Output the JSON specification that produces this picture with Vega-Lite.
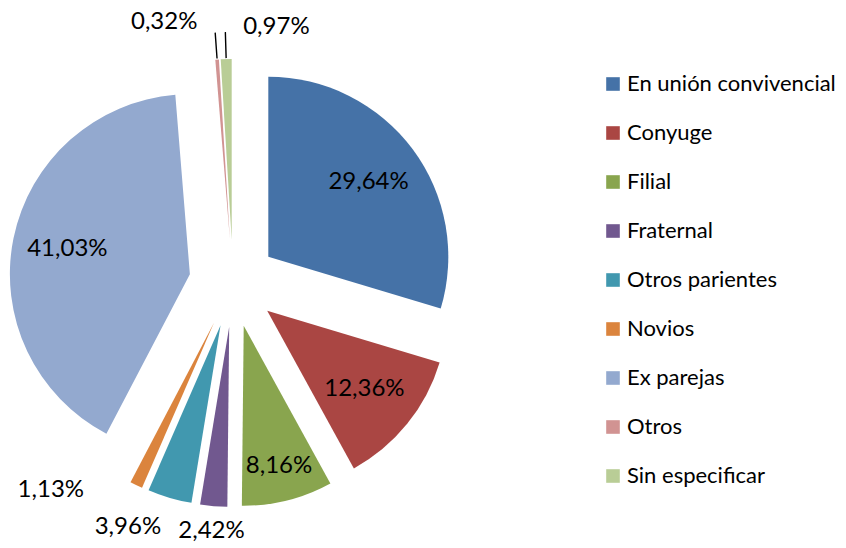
{
  "$schema": "https://vega.github.io/schema/vega-lite/v6.json",
  "width": 846,
  "height": 548,
  "padding": 0,
  "autosize": {"type": "none"},
  "background": "white",
  "config": {"view": {"stroke": null}, "font": "Lato"},
  "data": {
    "values": [
      {"categoria": "En unión convivencial", "pct": 29.64, "orden": 1},
      {"categoria": "Conyuge", "pct": 12.36, "orden": 2},
      {"categoria": "Filial", "pct": 8.16, "orden": 3},
      {"categoria": "Fraternal", "pct": 2.42, "orden": 4},
      {"categoria": "Otros parientes", "pct": 3.96, "orden": 5},
      {"categoria": "Novios", "pct": 1.13, "orden": 6},
      {"categoria": "Ex parejas", "pct": 41.03, "orden": 7},
      {"categoria": "Otros", "pct": 0.32, "orden": 8},
      {"categoria": "Sin especificar", "pct": 0.97, "orden": 9}
    ]
  },
  "transform": [
    {"window": [{"op": "sum", "field": "pct", "as": "cum"}], "sort": [{"field": "orden", "order": "ascending"}], "frame": [null, 0]},
    {"joinaggregate": [{"op": "sum", "field": "pct", "as": "total"}]},
    {"calculate": "(datum.cum - datum.pct) / datum.total", "as": "t0"},
    {"calculate": "datum.cum / datum.total", "as": "t1"},
    {"calculate": "(datum.cum - datum.pct / 2) / datum.total", "as": "tm"},
    {"calculate": "sin(2 * PI * datum.tm)", "as": "ex"},
    {"calculate": "-cos(2 * PI * datum.tm)", "as": "ey"},
    {"calculate": "replace(format(datum.pct, '.2f'), '.', ',') + '%'", "as": "etiqueta"}
  ],
  "encoding": {
    "x": {"field": "ex", "type": "quantitative", "stack": null, "scale": {"domain": [-1, 1], "range": [189, 277]}, "axis": null},
    "y": {"field": "ey", "type": "quantitative", "stack": null, "scale": {"domain": [-1, 1], "range": [239, 327]}, "axis": null}
  },
  "layer": [
    {
      "mark": {"type": "arc", "outerRadius": 180, "innerRadius": 0},
      "encoding": {
        "theta": {"field": "t0", "type": "quantitative", "scale": {"domain": [0, 1], "range": [0, 6.283185307179586]}},
        "theta2": {"field": "t1"},
        "color": {
          "field": "categoria",
          "type": "nominal",
          "scale": {
            "domain": ["En unión convivencial", "Conyuge", "Filial", "Fraternal", "Otros parientes", "Novios", "Ex parejas", "Otros", "Sin especificar"],
            "range": ["#4572A7", "#AA4643", "#89A54E", "#71588F", "#4198AF", "#DB843D", "#93A9CF", "#D19392", "#B9CD96"]
          },
          "legend": {
            "title": null,
            "orient": "none",
            "legendX": 602,
            "legendY": 73,
            "padding": 0,
            "symbolType": "square",
            "symbolSize": 185,
            "symbolStrokeWidth": 0,
            "labelFont": "Lato",
            "labelFontSize": 22,
            "labelColor": "black",
            "labelOffset": 3,
            "rowPadding": 27,
            "labelLimit": 300
          }
        }
      }
    },
    {
      "transform": [{"filter": {"field": "categoria", "oneOf": ["Otros", "Sin especificar"]}}],
      "mark": {"type": "arc", "innerRadius": 181, "outerRadius": 207, "fill": null, "stroke": "black", "strokeWidth": 1.4},
      "encoding": {
        "theta": {"field": "tm", "type": "quantitative"},
        "theta2": {"field": "tm"}
      }
    },
    {
      "transform": [{"filter": {"field": "categoria", "oneOf": ["En unión convivencial", "Conyuge", "Ex parejas"]}}],
      "mark": {"type": "text", "radius": 125, "fontSize": 24, "font": "Lato", "color": "black", "align": "center", "baseline": "middle"},
      "encoding": {"theta": {"field": "tm", "type": "quantitative"}, "text": {"field": "etiqueta"}}
    },
    {
      "transform": [{"filter": {"field": "categoria", "equal": "Filial"}}],
      "mark": {"type": "text", "radius": 145, "fontSize": 24, "font": "Lato", "color": "black", "align": "center", "baseline": "middle"},
      "encoding": {"theta": {"field": "tm", "type": "quantitative"}, "text": {"field": "etiqueta"}}
    },
    {
      "transform": [{"filter": {"field": "categoria", "equal": "Fraternal"}}],
      "mark": {"type": "text", "radius": 205, "fontSize": 24, "font": "Lato", "color": "black", "align": "center", "baseline": "middle"},
      "encoding": {"theta": {"field": "tm", "type": "quantitative"}, "text": {"field": "etiqueta"}}
    },
    {
      "transform": [{"filter": {"field": "categoria", "equal": "Otros parientes"}}],
      "mark": {"type": "text", "radius": 210, "fontSize": 24, "font": "Lato", "color": "black", "align": "right", "baseline": "middle"},
      "encoding": {"theta": {"field": "tm", "type": "quantitative"}, "text": {"field": "etiqueta"}}
    },
    {
      "transform": [{"filter": {"field": "categoria", "equal": "Novios"}}],
      "mark": {"type": "text", "radius": 185, "dx": -50, "fontSize": 24, "font": "Lato", "color": "black", "align": "right", "baseline": "middle"},
      "encoding": {"theta": {"field": "tm", "type": "quantitative"}, "text": {"field": "etiqueta"}}
    },
    {
      "transform": [{"filter": {"field": "categoria", "equal": "Otros"}}],
      "mark": {"type": "text", "radius": 218, "dx": -17, "fontSize": 24, "font": "Lato", "color": "black", "align": "right", "baseline": "middle"},
      "encoding": {"theta": {"field": "tm", "type": "quantitative"}, "text": {"field": "etiqueta"}}
    },
    {
      "transform": [{"filter": {"field": "categoria", "equal": "Sin especificar"}}],
      "mark": {"type": "text", "radius": 212, "dx": 18, "fontSize": 24, "font": "Lato", "color": "black", "align": "left", "baseline": "middle"},
      "encoding": {"theta": {"field": "tm", "type": "quantitative"}, "text": {"field": "etiqueta"}}
    }
  ]
}
